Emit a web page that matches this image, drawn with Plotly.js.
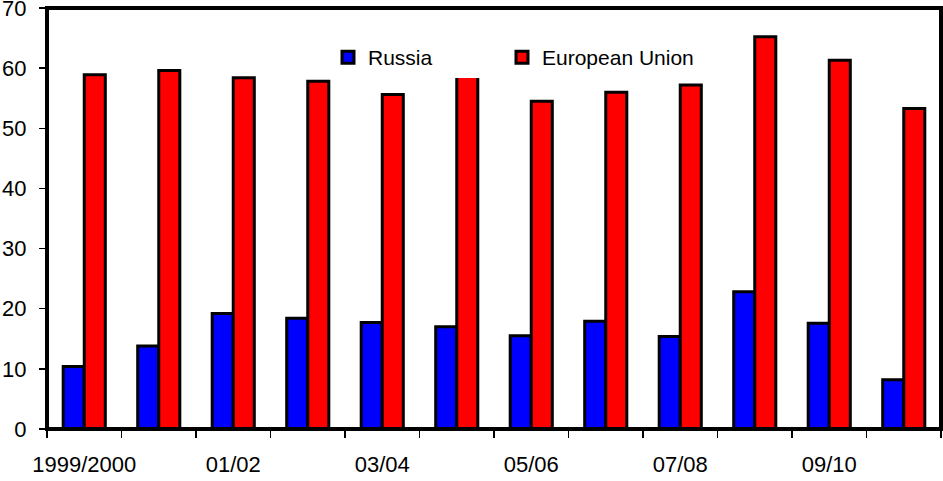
<!DOCTYPE html>
<html>
<head>
<meta charset="utf-8">
<script src="https://cdn.plot.ly/plotly-3.0.1.min.js"></script>
<style>
  html, body { margin: 0; padding: 0; background: #ffffff; }
  #chart { width: 943px; height: 481px; }
</style>
</head>
<body>
<div id="chart"></div>
<script>
// Seasons on the category axis (labels drawn on every other season)
const seasons = ['1999/2000', '2000/01', '01/02', '02/03', '03/04', '04/05',
                 '05/06', '06/07', '07/08', '08/09', '09/10', '10/11'];
const seasonLabels = ['1999/2000', '', '01/02', '', '03/04', '',
                      '05/06', '', '07/08', '', '09/10', ''];

// Shares per season
const russia = [10.4, 13.8, 19.2, 18.4, 17.7, 17.0, 15.5, 17.9, 15.4, 22.8, 17.6, 8.2];
const europeanUnion = [58.9, 59.6, 58.4, 57.8, 55.6, 59.5, 54.5, 56.0, 57.2, 65.2, 61.3, 53.3];

const yTicks = [0, 10, 20, 30, 40, 50, 60, 70];

const FONT = 'Liberation Sans, Arial, Helvetica, sans-serif';

const barLine = { color: '#000000', width: 3 };

const traces = [
  {
    type: 'bar', name: 'Russia', x: seasons, y: russia, legend: 'legend',
    marker: { color: '#0000ff', line: barLine }
  },
  {
    type: 'bar', name: 'European Union', x: seasons, y: europeanUnion, legend: 'legend2',
    marker: { color: '#ff0000', line: barLine }
  }
];

// Plot area: left 47, width 894; bottom 429, height 421
const px = v => (v - 47) / 894;
const py = v => (429 - v) / 421;

const legendBase = {
  orientation: 'h',
  xanchor: 'left',
  y: py(78), yanchor: 'bottom',
  bgcolor: '#ffffff', borderwidth: 0,
  font: { family: FONT, size: 21, color: '#000000' }
};

const layout = {
  width: 943, height: 481,
  margin: { l: 47, r: 2, t: 8, b: 52, pad: 0 },
  paper_bgcolor: '#ffffff', plot_bgcolor: '#ffffff',
  font: { family: FONT, size: 22, color: '#000000' },
  barmode: 'group', bargap: 0.435, bargroupgap: 0,
  showlegend: true,
  // the first legend box is widened so the shared white panel spans both entries
  legend: Object.assign({}, legendBase, { x: px(328), entrywidth: 150, entrywidthmode: 'pixels' }),
  legend2: Object.assign({}, legendBase, { x: px(502) }),
  xaxis: {
    type: 'category',
    categoryorder: 'array', categoryarray: seasons,
    tickmode: 'array', tickvals: seasons, ticktext: seasonLabels,
    tickson: 'boundaries', tickangle: 0,
    ticks: 'outside', ticklen: 8, tickwidth: 1.5, tickcolor: '#000000',
    ticklabelstandoff: 20,
    ticklabeloverflow: 'allow',
    showline: false, showgrid: false, zeroline: false,
    tickfont: { family: FONT, size: 22, color: '#000000' },
    fixedrange: true
  },
  yaxis: {
    range: [0, 70],
    tickmode: 'array', tickvals: yTicks,
    ticks: 'outside', ticklen: 7, tickwidth: 1.5, tickcolor: '#000000',
    ticklabelstandoff: 8,
    ticklabeloverflow: 'allow',
    showline: false, showgrid: false, zeroline: false,
    tickfont: { family: FONT, size: 22, color: '#000000' },
    fixedrange: true
  },
  shapes: [
    {
      type: 'rect', xref: 'paper', yref: 'paper',
      x0: 0, x1: 1, y0: 0, y1: 1,
      line: { color: '#000000', width: 4 },
      fillcolor: 'rgba(0,0,0,0)', layer: 'above'
    }
  ]
};

Plotly.newPlot('chart', traces, layout, { staticPlot: true, displayModeBar: false });
</script>
</body>
</html>
